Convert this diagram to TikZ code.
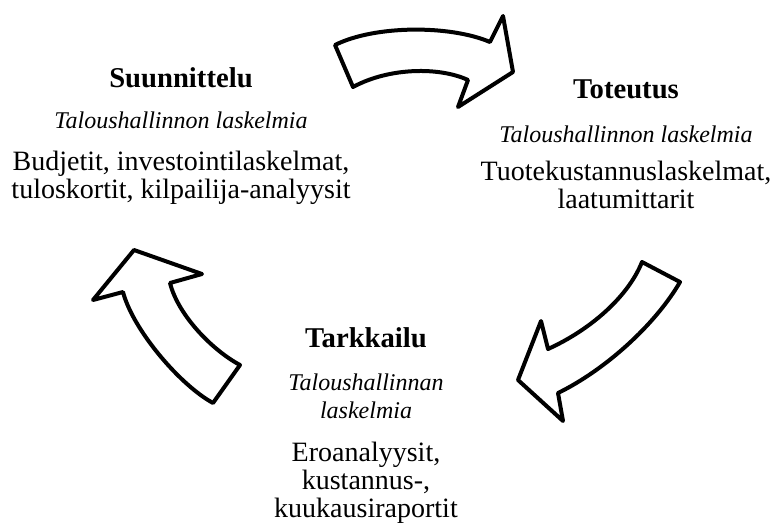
\documentclass[tikz,border=0pt]{standalone}
\usepackage{fontspec}
\setmainfont{Liberation Serif}
\usetikzlibrary{calc}

\tikzset{
  bigarrow/.style={draw=black, line width=3pt, fill=white, line join=round},
  heading/.style={font=\fontsize{21.5}{24}\selectfont\bfseries, inner sep=0pt, anchor=base},
  kind/.style={font=\fontsize{18}{20.8}\selectfont\itshape, inner sep=0pt, anchor=base, align=center},
  items/.style={font=\fontsize{21}{20.7}\selectfont, inner sep=0pt, anchor=base, align=center}
}

\begin{document}
\begin{tikzpicture}[x=0.75pt,y=-0.75pt]
\useasboundingbox (0,0) rectangle (777,525);

% Suunnittelu (base = last line)
\coordinate (S) at (181,87);
\node[heading] (suun) at (S) {Suunnittelu};
\node[kind] (suunlask) at ($ (S)+(0,41) $) {Taloushallinnon laskelmia};
\node[items] (suunesim) at ($ (S)+(0,111) $) {Budjetit, investointilaskelmat,\\tuloskortit, kilpailija-analyysit};

% Toteutus
\coordinate (T) at (626,98);
\node[heading] (tote) at (T) {Toteutus};
\node[kind] (totelask) at ($ (T)+(0,44) $) {Taloushallinnon laskelmia};
\node[items] (toteesim) at ($ (T)+(0,110) $) {Tuotekustannuslaskelmat,\\laatumittarit};

% Tarkkailu
\coordinate (K) at (366,347);
\node[heading] (tark) at (K) {Tarkkailu};
\node[kind] (tarklask) at ($ (K)+(0,71) $) {Taloushallinnan\\laskelmia};
\node[items] (tarkesim) at ($ (K)+(0,170) $) {Eroanalyysit,\\kustannus-,\\kuukausiraportit};

% nuolet
\draw[bigarrow] (335,45) .. controls (375,25) and (450,25) .. (490,42)
  -- (503,16) -- (513,72) -- (458,107) -- (468,80)
  .. controls (440,67) and (390,67) .. (353,87) -- cycle;
\draw[bigarrow] (680,282) .. controls (655,325) and (605,370) .. (558,393)
  -- (563,421) -- (518,380) -- (541,321) -- (548,349)
  .. controls (590,330) and (628,297) .. (642,262) -- cycle;
\draw[bigarrow] (213,403) .. controls (180,385) and (133,330) .. (123,292)
  -- (93,300) -- (134,250) -- (202,274) -- (170,283)
  .. controls (178,315) and (212,350) .. (240,365) -- cycle;
\end{tikzpicture}
\end{document}
